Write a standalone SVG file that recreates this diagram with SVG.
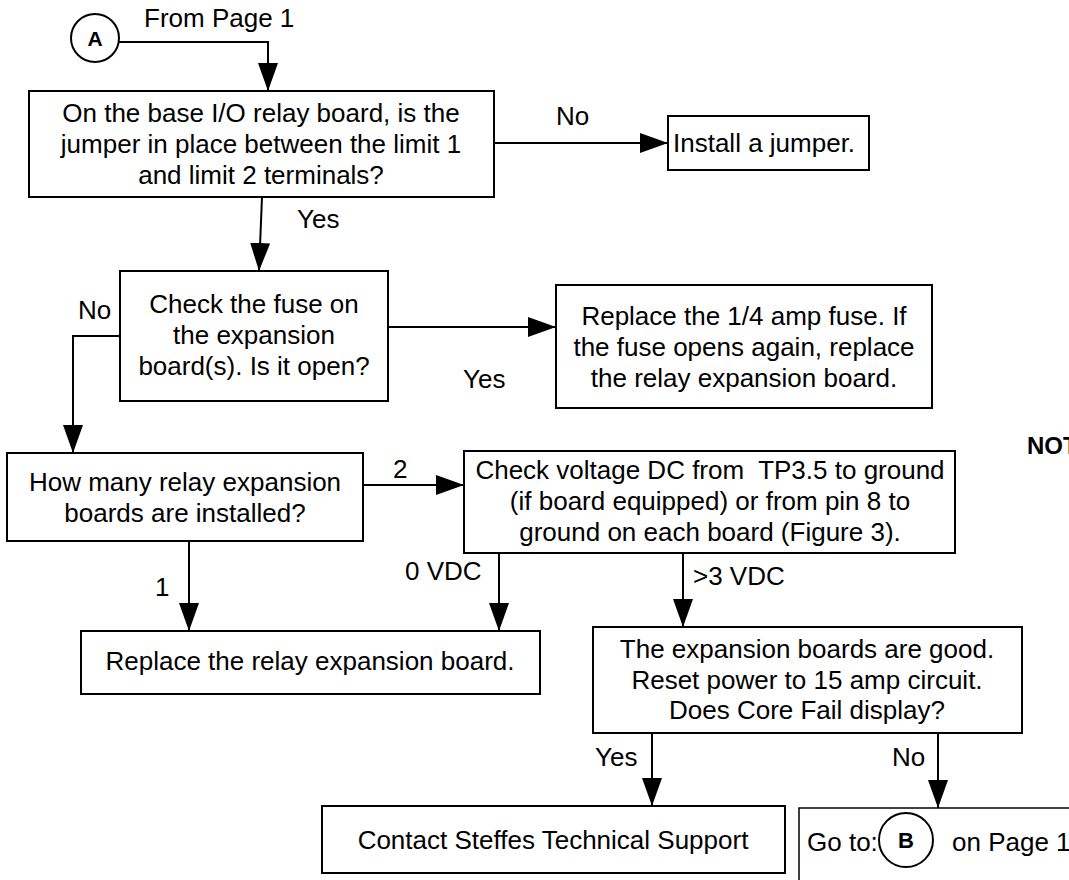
<svg xmlns="http://www.w3.org/2000/svg" width="1069" height="880" viewBox="0 0 1069 880">
<defs>
<style>
text{font-family:"Liberation Sans",Arial,Helvetica,sans-serif;font-size:26px;fill:#000}
.c{text-anchor:middle}
.b{font-weight:bold}
.box{fill:#fff;stroke:#000;stroke-width:2}
.thin{fill:#fff;stroke:#000;stroke-width:1.5}
.ln{fill:none;stroke:#000;stroke-width:2;marker-end:url(#ah)}
.pl{fill:none;stroke:#000;stroke-width:2}
</style>
<marker id="ah" markerUnits="userSpaceOnUse" markerWidth="28" markerHeight="20" refX="28" refY="10" orient="auto">
<path d="M0,0 L28,10 L0,20 z" fill="#000"/>
</marker>
</defs>
<rect width="1069" height="880" fill="#fff"/>
<g id="connectors">
<path class="ln" d="M119,42 H268 V91"/>
<path class="ln" d="M494,143 H668"/>
<path class="ln" d="M262,197 L259,271"/>
<path class="ln" d="M388,327 H556"/>
<path class="ln" d="M120,336 H73 V453"/>
<path class="ln" d="M363,485 H464"/>
<path class="ln" d="M189,541 V631"/>
<path class="ln" d="M499,553 V631"/>
<path class="ln" d="M683,553 V627"/>
<path class="ln" d="M652,733 V806"/>
<path class="ln" d="M938,733 V808"/>
<text x="144" y="27">From Page 1</text>
<text x="556" y="125">No</text>
<text x="297" y="228">Yes</text>
<text x="78" y="319">No</text>
<text x="463" y="388">Yes</text>
<text x="393" y="478">2</text>
<text x="155" y="596">1</text>
<text x="405" y="580">0 VDC</text>
<text x="693" y="585">&gt;3 VDC</text>
<text x="595" y="766">Yes</text>
<text x="892" y="766">No</text>
</g>
<g id="connA">
<circle cx="95" cy="38" r="24" fill="#fff" stroke="#000" stroke-width="2"/>
<text class="c b" x="95" y="46" style="font-size:21px">A</text>
</g>
<g id="q1">
<rect class="box" x="29" y="91" width="465" height="106"/>
<text class="c" x="261" y="122">On the base I/O relay board, is the</text>
<text class="c" x="261" y="153">jumper in place between the limit 1</text>
<text class="c" x="261" y="184">and limit 2 terminals?</text>
</g>
<g id="install">
<rect class="box" x="668" y="116" width="201" height="54"/>
<text x="673" y="152">Install a jumper.</text>
</g>
<g id="q2">
<rect class="box" x="120" y="271" width="268" height="130"/>
<text class="c" x="254" y="313">Check the fuse on</text>
<text class="c" x="254" y="344">the expansion</text>
<text class="c" x="254" y="375">board(s). Is it open?</text>
</g>
<g id="replaceFuse">
<rect class="box" x="556" y="285" width="376" height="123"/>
<text class="c" x="744" y="325">Replace the 1/4 amp fuse. If</text>
<text class="c" x="744" y="356">the fuse opens again, replace</text>
<text class="c" x="744" y="387">the relay expansion board.</text>
</g>
<g id="note">
<text class="b" x="1027" y="454" style="font-size:24px">NOT</text>
</g>
<g id="q3">
<rect class="box" x="7" y="453" width="356" height="88"/>
<text class="c" x="185" y="491">How many relay expansion</text>
<text class="c" x="185" y="522">boards are installed?</text>
</g>
<g id="q4">
<rect class="box" x="464" y="451" width="491" height="102"/>
<text class="c" x="710" y="479" xml:space="preserve">Check voltage DC from  TP3.5 to ground</text>
<text class="c" x="710" y="510">(if board equipped) or from pin 8 to</text>
<text class="c" x="710" y="541">ground on each board (Figure 3).</text>
</g>
<g id="replaceBoard">
<rect class="box" x="81" y="631" width="459" height="63"/>
<text class="c" x="310" y="670">Replace the relay expansion board.</text>
</g>
<g id="q5">
<rect class="box" x="593" y="627" width="429" height="106"/>
<text class="c" x="807" y="658">The expansion boards are good.</text>
<text class="c" x="807" y="689">Reset power to 15 amp circuit.</text>
<text class="c" x="807" y="719">Does Core Fail display?</text>
</g>
<g id="contact">
<rect class="box" x="322" y="806" width="463" height="67"/>
<text class="c" x="553" y="849">Contact Steffes Technical Support</text>
</g>
<g id="gotoB">
<rect class="thin" x="799" y="808" width="300" height="100"/>
<text x="807" y="851">Go to:</text>
<circle cx="906" cy="840" r="27" fill="#fff" stroke="#000" stroke-width="2"/>
<text class="c b" x="906" y="848" style="font-size:22px">B</text>
<text x="952" y="851">on Page 1</text>
</g>
</svg>
